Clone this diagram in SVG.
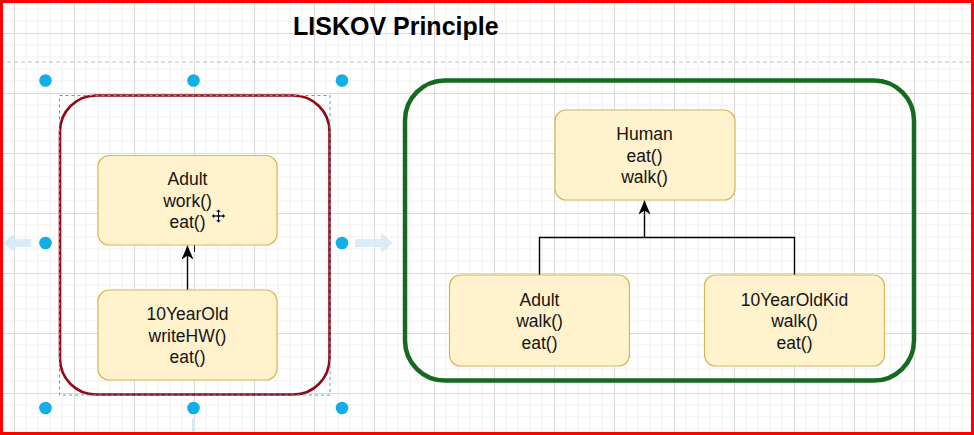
<svg xmlns="http://www.w3.org/2000/svg" width="974" height="435" viewBox="0 0 974 435">
  <style>
    .box { fill: #fff2cc; stroke: #d6b656; stroke-width: 1.2; }
    .lbl { font-family: "Liberation Sans", Arial, Helvetica, sans-serif; font-size: 17.5px; fill: #141414; text-anchor: middle; }
    .title { font-family: "Liberation Sans", Arial, Helvetica, sans-serif; font-size: 25px; font-weight: bold; fill: #000; }
    .edge { fill: none; stroke: #000; stroke-width: 1.4; }
    .handle { fill: #12aee6; }
    .hover { fill: #d3eaf5; }
  </style>
  <defs>
    <pattern id="grid" x="14" y="33" width="60" height="60" patternUnits="userSpaceOnUse">
      <path d="M12,0 V60 M24,0 V60 M36,0 V60 M48,0 V60 M0,12 H60 M0,24 H60 M0,36 H60 M0,48 H60" stroke="#f0f0f2" stroke-width="1" fill="none"/>
      <path d="M0,0 V60 M0,0 H60" stroke="#dadadd" stroke-width="2" fill="none"/>
    </pattern>
    <marker id="arrow" viewBox="0 0 14 12" refX="14" refY="6" markerWidth="14" markerHeight="12" markerUnits="userSpaceOnUse" orient="auto">
      <path d="M14,6 L0,0 L4,6 L0,12 Z" fill="#000"/>
    </marker>
  </defs>

  <!-- canvas -->
  <rect x="0" y="0" width="974" height="435" fill="#ffffff"/>
  <rect x="0" y="0" width="974" height="435" fill="url(#grid)"/>
  <line x1="0" y1="62" x2="974" y2="62" stroke="#bdbdc2" stroke-width="1" stroke-dasharray="4 3"/>

  <!-- title -->
  <text id="title" class="title" x="293" y="35">LISKOV Principle</text>

  <!-- left container -->
  <g id="left-container">
    <rect x="60" y="95.5" width="269.5" height="299" rx="36" ry="36" fill="none" stroke="#8e0c17" stroke-width="2.6"/>
    <rect x="59.5" y="95.5" width="270.5" height="299.5" fill="none" stroke="#3aa6d8" stroke-width="1" stroke-dasharray="3 3"/>
  </g>

  <!-- right container -->
  <g id="right-container">
    <rect x="405" y="80.5" width="509" height="300" rx="40" ry="40" fill="none" stroke="#156a1f" stroke-width="4.5"/>
  </g>

  <!-- connectors -->
  <g id="connectors">
    <line class="edge" x1="187.5" y1="290" x2="187.5" y2="245.5" marker-end="url(#arrow)"/>
    <line x1="194.5" y1="232" x2="194.5" y2="252" stroke="#000" stroke-width="1"/>
    <path class="edge" d="M539.5,275 V237.5 H794.5 V275"/>
    <line class="edge" x1="644.5" y1="237.5" x2="644.5" y2="200.5" marker-end="url(#arrow)"/>
  </g>

  <!-- nodes -->
  <g id="node-adult-left">
    <rect class="box" x="98" y="155.5" width="179" height="89.5" rx="11"/>
    <text class="lbl" x="187.5" y="185">Adult</text>
    <text class="lbl" x="187.5" y="206.5">work()</text>
    <text class="lbl" x="187.5" y="228">eat()</text>
  </g>
  <g id="node-10yearold">
    <rect class="box" x="98" y="290" width="179" height="90" rx="11"/>
    <text class="lbl" x="187.5" y="320">10YearOld</text>
    <text class="lbl" x="187.5" y="341.5">writeHW()</text>
    <text class="lbl" x="187.5" y="363">eat()</text>
  </g>
  <g id="node-human">
    <rect class="box" x="555" y="110" width="180" height="90" rx="11"/>
    <text class="lbl" x="644.5" y="140">Human</text>
    <text class="lbl" x="644.5" y="161.5">eat()</text>
    <text class="lbl" x="644.5" y="183">walk()</text>
  </g>
  <g id="node-adult-right">
    <rect class="box" x="449.5" y="275" width="180" height="91" rx="11"/>
    <text class="lbl" x="539.5" y="305.5">Adult</text>
    <text class="lbl" x="539.5" y="327">walk()</text>
    <text class="lbl" x="539.5" y="348.5">eat()</text>
  </g>
  <g id="node-10yearoldkid">
    <rect class="box" x="704.5" y="275" width="180" height="91" rx="11"/>
    <text class="lbl" x="794.5" y="305.5">10YearOldKid</text>
    <text class="lbl" x="794.5" y="327">walk()</text>
    <text class="lbl" x="794.5" y="348.5">eat()</text>
  </g>

  <!-- selection handles and hover arrows -->
  <g id="selection">
    <path class="hover" d="M3,243 L15,233 L15,239 L31,239 L31,247 L15,247 L15,253 Z" opacity="0.85"/>
    <path class="hover" d="M393,243 L381,233 L381,239 L355,239 L355,247 L381,247 L381,253 Z" opacity="0.85"/>
    <rect class="hover" x="192" y="419" width="3" height="14"/>
    <circle class="handle" cx="45.5" cy="80.5" r="6.3"/>
    <circle class="handle" cx="193.5" cy="80.5" r="6.3"/>
    <circle class="handle" cx="342" cy="80.5" r="6.3"/>
    <circle class="handle" cx="45.5" cy="243" r="6.3"/>
    <circle class="handle" cx="342" cy="243" r="6.3"/>
    <circle class="handle" cx="45.5" cy="408" r="6.3"/>
    <circle class="handle" cx="193.5" cy="408" r="6.3"/>
    <circle class="handle" cx="342" cy="408" r="6.3"/>
  </g>

  <!-- move cursor -->
  <g id="cursor" transform="translate(218.5,216)">
    <path d="M0,-7 L3,-4 L1,-4 L1,-1 L4,-1 L4,-3 L7,0 L4,3 L4,1 L1,1 L1,4 L3,4 L0,7 L-3,4 L-1,4 L-1,1 L-4,1 L-4,3 L-7,0 L-4,-3 L-4,-1 L-1,-1 L-1,-4 L-3,-4 Z" fill="#000" stroke="#fff" stroke-width="0.8" stroke-linejoin="round"/>
  </g>

  <!-- screenshot frame -->
  <rect x="1.5" y="1.5" width="971" height="432" fill="none" stroke="#ff0000" stroke-width="3"/>
</svg>
